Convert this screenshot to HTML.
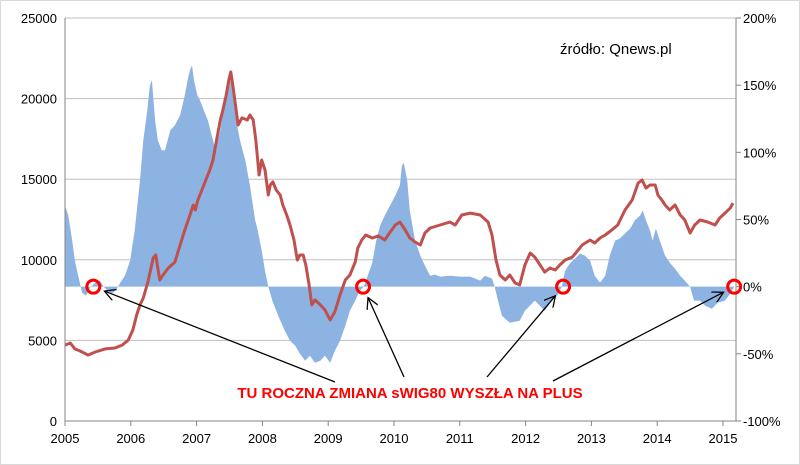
<!DOCTYPE html>
<html><head><meta charset="utf-8"><style>
body{margin:0;background:#fff;}
svg{display:block;font-family:"Liberation Sans",sans-serif;}
</style></head><body>
<svg id="chart" width="800" height="465">
<rect x="0.5" y="0.5" width="799" height="464" fill="#fff" stroke="#d9d9d9"/>
<g id="grid"></g>
<g id="area"></g>
<g id="line"></g>
<g id="axes"></g>
<text x="560" y="54" font-size="15" fill="#000">źródło: Qnews.pl</text>
<text x="410" y="398" font-size="15" font-weight="bold" fill="#ff0000" text-anchor="middle">TU ROCZNA ZMIANA sWIG80 WYSZŁA NA PLUS</text>
<g id="annot"></g>
</svg>
<script>
const idxYears=[2005.00,2005.08,2005.15,2005.23,2005.35,2005.46,2005.61,2005.76,2005.87,2005.96,2006.03,2006.09,2006.14,2006.19,2006.26,2006.29,2006.34,2006.38,2006.41,2006.44,2006.49,2006.57,2006.67,2006.75,2006.82,2006.90,2006.95,2006.98,2007.02,2007.08,2007.14,2007.20,2007.25,2007.29,2007.36,2007.40,2007.45,2007.49,2007.52,2007.55,2007.58,2007.63,2007.69,2007.77,2007.81,2007.86,2007.90,2007.95,2007.99,2008.04,2008.09,2008.12,2008.16,2008.21,2008.27,2008.31,2008.37,2008.42,2008.48,2008.53,2008.57,2008.62,2008.66,2008.71,2008.75,2008.80,2008.88,2008.95,2009.03,2009.10,2009.18,2009.26,2009.33,2009.41,2009.45,2009.51,2009.57,2009.67,2009.76,2009.86,2009.94,2010.02,2010.09,2010.17,2010.24,2010.32,2010.40,2010.47,2010.55,2010.70,2010.85,2010.93,2011.03,2011.16,2011.31,2011.43,2011.49,2011.55,2011.61,2011.69,2011.76,2011.84,2011.91,2011.99,2012.07,2012.14,2012.22,2012.29,2012.37,2012.45,2012.52,2012.60,2012.71,2012.80,2012.86,2012.98,2013.05,2013.13,2013.21,2013.31,2013.40,2013.51,2013.62,2013.71,2013.77,2013.83,2013.89,2013.97,2014.01,2014.07,2014.12,2014.19,2014.27,2014.35,2014.42,2014.50,2014.57,2014.65,2014.77,2014.88,2014.95,2015.03,2015.11,2015.15];
const idxValues=[4710,4840,4470,4340,4090,4280,4470,4530,4710,5020,5640,6580,7200,7630,8620,9180,10110,10300,9490,8750,9060,9490,9860,10920,11850,12780,13400,13090,13710,14330,14950,15570,16190,17120,18670,19290,20220,21150,21650,20840,19910,18360,18800,18670,18980,18670,17430,15260,16190,15570,14020,14640,14830,14330,14020,13400,12780,12160,11230,9990,10300,10300,9680,8440,7200,7510,7200,6890,6270,6760,7820,8750,9060,9860,10730,11230,11540,11350,11480,11230,11720,12160,12340,11850,11350,11100,10920,11660,11970,12160,12340,12160,12780,12900,12780,12340,11540,9990,9060,8750,9060,8560,8440,9680,10420,10170,9680,9240,9490,9370,9680,9990,10170,10610,10920,11230,11040,11350,11540,11850,12160,13090,13710,14760,14950,14450,14640,14640,14020,13710,13400,13090,13400,12780,12470,11660,12160,12470,12340,12160,12590,12900,13210,13520];
const chgYears=[2005.00,2005.05,2005.11,2005.15,2005.20,2005.26,2005.32,2005.38,2005.46,2005.53,2005.59,2005.65,2005.71,2005.78,2005.84,2005.91,2005.99,2006.06,2006.14,2006.19,2006.25,2006.29,2006.32,2006.37,2006.41,2006.47,2006.52,2006.60,2006.67,2006.75,2006.82,2006.87,2006.90,2006.93,2006.96,2007.01,2007.05,2007.11,2007.17,2007.23,2007.29,2007.36,2007.42,2007.48,2007.52,2007.55,2007.60,2007.66,2007.74,2007.81,2007.89,2007.93,2007.99,2008.04,2008.09,2008.15,2008.24,2008.34,2008.42,2008.50,2008.57,2008.65,2008.72,2008.80,2008.88,2008.95,2009.03,2009.10,2009.18,2009.26,2009.33,2009.41,2009.48,2009.54,2009.60,2009.67,2009.73,2009.79,2009.86,2009.94,2010.02,2010.09,2010.12,2010.15,2010.20,2010.24,2010.32,2010.40,2010.47,2010.55,2010.62,2010.70,2010.85,2011.00,2011.16,2011.31,2011.38,2011.49,2011.53,2011.58,2011.64,2011.76,2011.91,2011.99,2012.14,2012.29,2012.40,2012.48,2012.55,2012.60,2012.67,2012.75,2012.83,2012.90,2012.98,2013.05,2013.13,2013.21,2013.28,2013.36,2013.43,2013.51,2013.59,2013.66,2013.74,2013.78,2013.83,2013.89,2013.93,2013.98,2014.04,2014.12,2014.19,2014.27,2014.35,2014.42,2014.50,2014.56,2014.65,2014.73,2014.83,2014.92,2015.03,2015.11,2015.17];
const chgValues=[60.4,53.0,34.3,19.4,8.2,-4.5,-6.7,-0.7,3.0,4.5,0,-3.0,-5.2,-2.2,3.0,8.2,19.4,41.8,79.1,109.0,131.3,150.0,153.7,123.9,109.0,101.5,101.5,116.4,120.1,127.6,142.5,155.2,161.2,164.9,153.7,142.5,138.8,131.3,123.9,112.7,101.5,116.4,138.8,150.0,153.7,142.5,123.9,109.0,94.0,75.4,49.3,41.8,26.9,11.9,0,-10.4,-21.6,-32.8,-40.3,-44.0,-50.0,-55.2,-51.5,-56.7,-55.2,-51.5,-56.7,-47.8,-40.3,-29.1,-17.9,-10.4,-3.0,0,8.2,17.9,34.3,45.5,53.0,60.4,67.9,75.4,90.3,91.8,79.1,56.7,34.3,23.1,15.7,8.2,9.0,7.5,8.2,7.5,7.5,4.5,8.2,6.0,0,-10.4,-21.6,-26.9,-25.4,-17.9,-10.4,-17.9,-10.4,-6.7,0,11.9,17.2,20.9,24.6,23.1,19.4,8.2,3.0,8.2,23.1,34.3,35.8,39.6,43.3,49.3,53.0,56.7,49.3,41.8,34.3,43.3,34.3,23.1,17.9,13.4,8.2,4.5,0,-10.4,-10.4,-14.2,-16.4,-11.9,-10.4,-5.2,0];
const leftTicks=[0,5000,10000,15000,20000,25000];
const rightTicks=[-100,-50,0,50,100,150,200];
const yearTicks=[2005,2006,2007,2008,2009,2010,2011,2012,2013,2014,2015];
const markerYears=[2005.43,2009.53,2012.57,2015.17];

const NS="http://www.w3.org/2000/svg";
const L=65,R=736,T=18,B=421;
const xS=y=>L+(y-2005)*65.8;
const yL=v=>B-(v/25000)*(B-T);
const yR=p=>T+(200-p)/300*(B-T);
function mk(tag,attrs,parent){const e=document.createElementNS(NS,tag);for(const k in attrs)e.setAttribute(k,attrs[k]);parent.appendChild(e);return e;}
const grid=document.getElementById('grid'),axes=document.getElementById('axes');
leftTicks.forEach(v=>{
 if(v>0){const g=mk('line',{x1:L,x2:R,y1:yL(v),y2:yL(v),stroke:'#bfbfbf','stroke-width':1},grid);
 
 }
 const t=mk('text',{x:L-8,y:yL(v)+5,'text-anchor':'end','font-size':13,fill:'#000'},axes);t.textContent=v;
 
 
});
rightTicks.forEach(p=>{
 mk('line',{x1:R,x2:R+5,y1:yR(p),y2:yR(p),stroke:'#868686'},axes);
 const t=mk('text',{x:R+7,y:yR(p)+5,'font-size':13,fill:'#000'},axes);t.textContent=p+'%';
 
 
});
yearTicks.forEach(y=>{
 mk('line',{x1:xS(y),x2:xS(y),y1:B,y2:B+5,stroke:'#868686'},axes);
 const t=mk('text',{x:xS(y),y:B+22,'text-anchor':'middle','font-size':13,fill:'#000'},axes);t.textContent=y;
 
 
});
mk('line',{x1:L,x2:L,y1:T,y2:B,stroke:'#868686'},axes);
mk('line',{x1:R,x2:R,y1:T,y2:B,stroke:'#868686'},axes);
mk('line',{x1:L,x2:R,y1:B,y2:B,stroke:'#868686'},axes);
// area
let d='M'+xS(chgYears[0])+','+yR(0);
chgYears.forEach((y,i)=>{d+=' L'+xS(y).toFixed(1)+','+yR(chgValues[i]).toFixed(1);});
d+=' L'+xS(chgYears[chgYears.length-1])+','+yR(0)+' Z';
const a=mk('path',{d:d,fill:'#8db3e2'},document.getElementById('area'));


// line
let ld='';
idxYears.forEach((y,i)=>{ld+=(i?' L':'M')+xS(y).toFixed(1)+','+yL(idxValues[i]).toFixed(1);});
const ln=mk('path',{d:ld,fill:'none',stroke:'#c0504d','stroke-width':3,'stroke-linejoin':'round'},document.getElementById('line'));


// annotations
const an=document.getElementById('annot');
const defs=mk('defs',{},an);
const m=mk('marker',{id:'ah',markerWidth:12,markerHeight:12,refX:11,refY:6,orient:'auto',markerUnits:'userSpaceOnUse'},defs);
mk('path',{d:'M0,0 L11,6 L0,12',fill:'none',stroke:'#000','stroke-width':1.3},m);
const starts=[[335,382],[404,377],[487,377],[553,381]];
markerYears.forEach((y,i)=>{
 const cx=xS(y),cy=yR(0);
 const c=mk('circle',{cx:cx,cy:cy,r:6.5,fill:'none',stroke:'#ff0000','stroke-width':3},an);
 
 
 const dx=cx-starts[i][0],dy=cy-starts[i][1],len=Math.hypot(dx,dy);
 const ar=mk('line',{x1:starts[i][0],y1:starts[i][1],x2:cx-dx/len*12,y2:cy-dy/len*12,stroke:'#000','stroke-width':1.3,'marker-end':'url(#ah)'},an);
 
 
});
</script>
</body></html>
